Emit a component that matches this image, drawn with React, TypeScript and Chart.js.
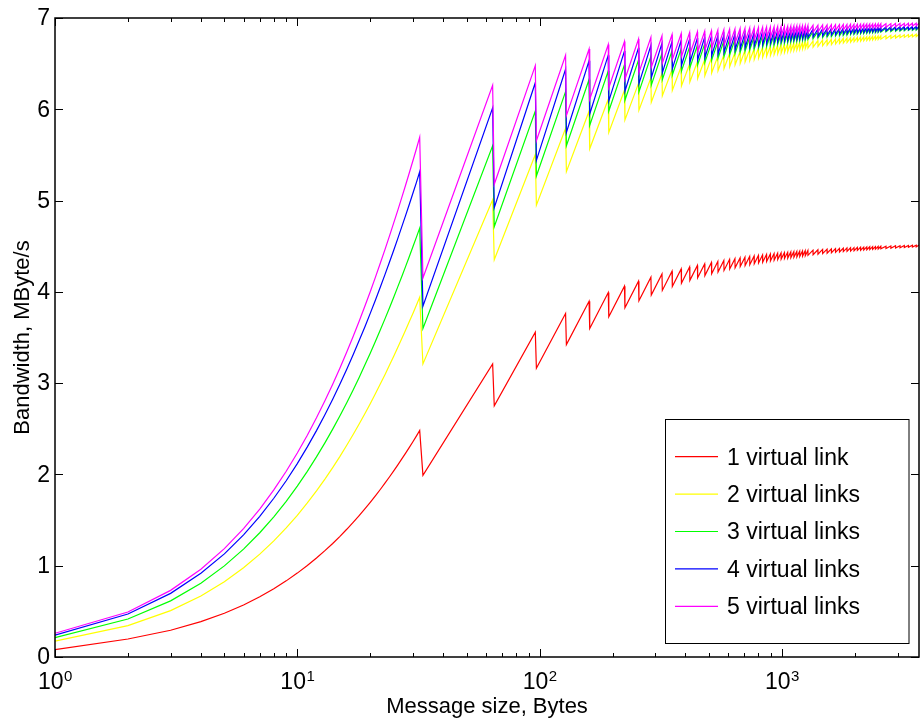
import React, { useEffect, useRef } from "react";
import { Chart, registerables } from "chart.js";

Chart.register(...registerables);

// Message sizes (bytes) for the first, smooth part of the curves
const smallSizes = [1, 2, 3, 4, 5, 6, 7, 8, 9, 10, 11, 12, 13, 14, 15, 16, 17, 18, 19, 20, 21, 22, 23, 24, 25, 26, 27, 28, 29, 30, 31];

// Saw-tooth packet counts k: peak at 32*k bytes, drop at 32*k+1 bytes
const toothK = [1, 2, 3, 4, 5, 6, 7, 8, 9, 10, 11, 12, 13, 14, 15, 16, 17, 18, 19, 20, 21, 22, 23, 24, 25, 26, 27, 28, 29, 30, 31, 32, 33, 34, 35, 36, 37, 38, 39, 40, 42, 44, 46, 48, 50, 52, 54, 56, 58, 60, 62, 64, 66, 68, 70, 72, 74, 76, 78, 80, 84, 88, 92, 96, 100, 104, 108, 112, 115];

const seriesLabels = ["1 virtual link", "2 virtual links", "3 virtual links", "4 virtual links", "5 virtual links"];
const seriesColors = ["#ff0000", "#ffff00", "#00ff00", "#0000ff", "#ff00ff"];

const xMin = 1;
const xMax = 3680;
const yMin = 0;
const yMax = 7;
const yTickValues = [0, 1, 2, 3, 4, 5, 6, 7];
const xDecades = [1, 10, 100, 1000];
const xDecadeExponents = ["0", "1", "2", "3"];
const xTitle = "Message size, Bytes";
const yTitle = "Bandwidth, MByte/s";

// ---- 1 virtual link (red)
const red_small = [0.08, 0.197, 0.293, 0.387, 0.479, 0.570, 0.660, 0.747, 0.834, 0.919, 1.002, 1.084, 1.165, 1.244, 1.322, 1.399, 1.475, 1.549, 1.622, 1.694, 1.765, 1.835, 1.904, 1.972, 2.039, 2.105, 2.170, 2.233, 2.296, 2.358, 2.420];
const red_peaks = [2.481, 3.210, 3.558, 3.762, 3.897, 3.992, 4.062, 4.117, 4.161, 4.196,
  4.226, 4.251, 4.272, 4.290, 4.306, 4.321, 4.333, 4.344, 4.355, 4.364,
  4.372, 4.380, 4.387, 4.393, 4.399, 4.405, 4.410, 4.414, 4.419, 4.423,
  4.427, 4.430, 4.433, 4.437, 4.440, 4.443, 4.446, 4.448, 4.451, 4.453,
  4.457, 4.461, 4.465, 4.468, 4.471, 4.474, 4.476, 4.479, 4.481, 4.483, 4.485, 4.487, 4.489, 4.490, 4.492, 4.494, 4.495, 4.496, 4.498, 4.499,
  4.501, 4.503, 4.505, 4.506, 4.508, 4.509, 4.511, 4.512,
  4.513];
const red_troughs = [1.990, 2.752, 3.164, 3.422, 3.599, 3.727, 3.825, 3.902, 3.964, 4.016,
  4.059, 4.095, 4.126, 4.154, 4.178, 4.199, 4.218, 4.235, 4.250, 4.264,
  4.277, 4.288, 4.298, 4.308, 4.317, 4.325, 4.333, 4.340, 4.347, 4.354,
  4.359, 4.365, 4.370, 4.375, 4.380, 4.384, 4.388, 4.392, 4.396, 4.400,
  4.407, 4.413, 4.419, 4.423, 4.428, 4.433, 4.437, 4.441, 4.444, 4.447, 4.450, 4.454, 4.456, 4.459, 4.461, 4.463, 4.466, 4.468, 4.470, 4.472,
  4.475, 4.478, 4.481, 4.484, 4.486, 4.488, 4.490, 4.492];

// ---- 2 virtual links (yellow)
const yellow_small = [0.174, 0.343, 0.508, 0.668, 0.825, 0.978, 1.127, 1.272, 1.414, 1.552, 1.688, 1.820, 1.949, 2.075, 2.198, 2.319, 2.437, 2.552, 2.665, 2.775, 2.884, 2.990, 3.093, 3.195, 3.295, 3.392, 3.488, 3.582, 3.674, 3.764, 3.853];
const yellow_peaks = [3.941, 5.008, 5.505, 5.792, 5.979, 6.110, 6.209, 6.284, 6.344, 6.392,
  6.433, 6.467, 6.496, 6.521, 6.543, 6.563, 6.580, 6.595, 6.609, 6.621,
  6.632, 6.643, 6.653, 6.661, 6.669, 6.676, 6.683, 6.690, 6.695, 6.701,
  6.706, 6.711, 6.716, 6.720, 6.724, 6.728, 6.732, 6.735, 6.739, 6.742,
  6.748, 6.753, 6.758, 6.762, 6.766, 6.770, 6.774, 6.777, 6.780, 6.783, 6.786, 6.788, 6.791, 6.793, 6.795, 6.797, 6.799, 6.801, 6.802, 6.804,
  6.807, 6.810, 6.812, 6.814, 6.816, 6.818, 6.820, 6.822,
  6.823];
const yellow_troughs = [3.210, 4.351, 4.949, 5.317, 5.567, 5.747, 5.884, 5.991, 6.077, 6.147,
  6.206, 6.256, 6.299, 6.337, 6.369, 6.398, 6.423, 6.447, 6.468, 6.487,
  6.503, 6.520, 6.534, 6.547, 6.559, 6.571, 6.581, 6.591, 6.600, 6.608,
  6.616, 6.624, 6.631, 6.638, 6.644, 6.650, 6.656, 6.661, 6.666, 6.671,
  6.680, 6.689, 6.696, 6.703, 6.709, 6.715, 6.721, 6.726, 6.731, 6.735, 6.739, 6.743, 6.747, 6.751, 6.754, 6.757, 6.760, 6.762, 6.765, 6.768,
  6.772, 6.776, 6.780, 6.784, 6.787, 6.790, 6.793, 6.796];

// ---- 3 virtual links (green)
const green_small = [0.211, 0.416, 0.615, 0.809, 0.998, 1.182, 1.361, 1.536, 1.706, 1.872, 2.034, 2.192, 2.346, 2.496, 2.643, 2.786, 2.926, 3.063, 3.198, 3.328, 3.456, 3.582, 3.704, 3.824, 3.941, 4.057, 4.169, 4.279, 4.388, 4.494, 4.597];
const green_peaks = [4.699, 5.599, 5.981, 6.193, 6.327, 6.419, 6.487, 6.539, 6.580, 6.613,
  6.640, 6.663, 6.683, 6.700, 6.714, 6.727, 6.738, 6.749, 6.758, 6.766,
  6.774, 6.780, 6.787, 6.792, 6.798, 6.802, 6.807, 6.811, 6.815, 6.819,
  6.822, 6.825, 6.828, 6.831, 6.834, 6.836, 6.839, 6.841, 6.843, 6.845,
  6.849, 6.853, 6.856, 6.859, 6.861, 6.864, 6.866, 6.868, 6.870, 6.872, 6.874, 6.876, 6.877, 6.878, 6.880, 6.881, 6.882, 6.884, 6.885, 6.886,
  6.888, 6.889, 6.891, 6.892, 6.894, 6.895, 6.896, 6.897,
  6.898];
const green_troughs = [3.599, 4.714, 5.269, 5.601, 5.823, 5.981, 6.099, 6.191, 6.264, 6.325,
  6.375, 6.418, 6.454, 6.486, 6.514, 6.538, 6.559, 6.579, 6.596, 6.612,
  6.626, 6.639, 6.651, 6.662, 6.672, 6.682, 6.690, 6.699, 6.706, 6.713,
  6.720, 6.726, 6.732, 6.738, 6.743, 6.748, 6.752, 6.757, 6.761, 6.765,
  6.773, 6.780, 6.786, 6.792, 6.797, 6.802, 6.806, 6.810, 6.814, 6.818, 6.821, 6.825, 6.828, 6.831, 6.833, 6.836, 6.838, 6.840, 6.843, 6.845,
  6.849, 6.852, 6.855, 6.858, 6.861, 6.864, 6.866, 6.868];

// ---- 4 virtual links (blue)
const blue_small = [0.239, 0.471, 0.697, 0.917, 1.130, 1.338, 1.541, 1.739, 1.931, 2.119, 2.302, 2.480, 2.654, 2.824, 2.990, 3.152, 3.311, 3.466, 3.616, 3.764, 3.909, 4.050, 4.189, 4.324, 4.456, 4.586, 4.714, 4.838, 4.960, 5.080, 5.197];
const blue_peaks = [5.316, 6.015, 6.291, 6.439, 6.531, 6.593, 6.639, 6.674, 6.701, 6.723,
  6.741, 6.756, 6.769, 6.780, 6.789, 6.798, 6.805, 6.812, 6.818, 6.823,
  6.828, 6.832, 6.836, 6.840, 6.843, 6.847, 6.850, 6.852, 6.855, 6.857,
  6.859, 6.861, 6.863, 6.865, 6.867, 6.869, 6.870, 6.872, 6.873, 6.874,
  6.877, 6.879, 6.881, 6.883, 6.885, 6.886, 6.888, 6.889, 6.890, 6.892, 6.893, 6.894, 6.895, 6.896, 6.897, 6.897, 6.898, 6.899, 6.900, 6.900,
  6.901, 6.903, 6.904, 6.905, 6.906, 6.906, 6.907, 6.908,
  6.908];
const blue_troughs = [3.842, 4.921, 5.440, 5.746, 5.948, 6.090, 6.197, 6.279, 6.345, 6.398,
  6.443, 6.480, 6.513, 6.540, 6.565, 6.586, 6.605, 6.622, 6.638, 6.651,
  6.664, 6.675, 6.686, 6.696, 6.705, 6.713, 6.721, 6.728, 6.734, 6.741,
  6.746, 6.752, 6.757, 6.762, 6.767, 6.771, 6.775, 6.779, 6.783, 6.786,
  6.793, 6.799, 6.804, 6.809, 6.814, 6.818, 6.822, 6.825, 6.829, 6.832, 6.835, 6.838, 6.840, 6.843, 6.845, 6.848, 6.850, 6.852, 6.854, 6.855,
  6.859, 6.862, 6.865, 6.867, 6.870, 6.872, 6.874, 6.876];

// ---- 5 virtual links (magenta)
const magenta_small = [0.26, 0.493, 0.730, 0.961, 1.187, 1.406, 1.621, 1.830, 2.035, 2.235, 2.430, 2.621, 2.807, 2.989, 3.167, 3.342, 3.512, 3.679, 3.842, 4.002, 4.159, 4.313, 4.463, 4.610, 4.755, 4.896, 5.035, 5.171, 5.305, 5.436, 5.565];
const magenta_peaks = [5.694, 6.262, 6.478, 6.591, 6.661, 6.709, 6.743, 6.769, 6.789, 6.806,
  6.819, 6.830, 6.840, 6.848, 6.855, 6.861, 6.867, 6.872, 6.876, 6.880,
  6.884, 6.887, 6.890, 6.893, 6.895, 6.898, 6.900, 6.902, 6.904, 6.906,
  6.907, 6.909, 6.910, 6.911, 6.913, 6.914, 6.915, 6.916, 6.917, 6.918,
  6.920, 6.922, 6.923, 6.925, 6.926, 6.927, 6.928, 6.929, 6.930, 6.931, 6.932, 6.933, 6.933, 6.934, 6.935, 6.935, 6.936, 6.936, 6.937, 6.937,
  6.938, 6.939, 6.940, 6.941, 6.941, 6.942, 6.942, 6.943,
  6.943];
const magenta_troughs = [4.151, 5.179, 5.656, 5.931, 6.110, 6.236, 6.329, 6.401, 6.458, 6.505,
  6.543, 6.576, 6.603, 6.627, 6.648, 6.667, 6.683, 6.698, 6.711, 6.723,
  6.733, 6.743, 6.752, 6.760, 6.768, 6.775, 6.782, 6.788, 6.793, 6.799,
  6.804, 6.808, 6.813, 6.817, 6.821, 6.825, 6.828, 6.831, 6.834, 6.837,
  6.843, 6.848, 6.853, 6.857, 6.861, 6.865, 6.868, 6.871, 6.874, 6.877, 6.879, 6.882, 6.884, 6.886, 6.888, 6.890, 6.892, 6.893, 6.895, 6.896,
  6.899, 6.902, 6.904, 6.906, 6.908, 6.910, 6.912, 6.914];

const seriesSmall = [red_small, yellow_small, green_small, blue_small, magenta_small];
const seriesPeaks = [red_peaks, yellow_peaks, green_peaks, blue_peaks, magenta_peaks];
const seriesTroughs = [red_troughs, yellow_troughs, green_troughs, blue_troughs, magenta_troughs];

function buildPoints(small: number[], peaks: number[], troughs: number[]) {
  const pts: { x: number; y: number }[] = small.map((v, i) => ({ x: smallSizes[i], y: v }));
  toothK.forEach((k, i) => {
    pts.push({ x: 32 * k, y: peaks[i] });
    if (i < troughs.length) pts.push({ x: 32 * k + 1, y: troughs[i] });
  });
  return pts;
}

const FONT = '"Liberation Sans", Arial, Helvetica, sans-serif';

const matlabPlugin = {
  id: "matlabAxes",
  afterDraw(chart: any) {
    const ctx: CanvasRenderingContext2D = chart.ctx;
    const { left, right, top, bottom } = chart.chartArea;
    const xs = chart.scales.x;
    const ys = chart.scales.y;
    ctx.save();
    ctx.strokeStyle = "#000";
    ctx.fillStyle = "#000";

    // inward tick marks
    ctx.lineWidth = 1;
    ctx.beginPath();
    xDecades.forEach((d) => {
      for (let m = 1; m <= 9; m++) {
        const v = d * m;
        if (v < xMin || v > xMax) continue;
        const px = Math.round(xs.getPixelForValue(v)) + 0.5;
        const len = m === 1 ? 8 : 4;
        ctx.moveTo(px, bottom);
        ctx.lineTo(px, bottom - len);
        ctx.moveTo(px, top);
        ctx.lineTo(px, top + len);
      }
    });
    yTickValues.forEach((v) => {
      const py = Math.round(ys.getPixelForValue(v)) + 0.5;
      ctx.moveTo(left, py);
      ctx.lineTo(left + 8, py);
      ctx.moveTo(right, py);
      ctx.lineTo(right - 8, py);
    });
    ctx.stroke();

    // axes box
    ctx.lineWidth = 1.5;
    ctx.strokeRect(left, top, right - left, bottom - top);

    // y tick labels
    ctx.font = `23px ${FONT}`;
    ctx.textAlign = "right";
    ctx.textBaseline = "middle";
    yTickValues.forEach((v) => {
      ctx.fillText(String(v), left - 5, ys.getPixelForValue(v) + 1);
    });

    // x tick labels 10^n
    ctx.textBaseline = "alphabetic";
    ctx.textAlign = "left";
    xDecades.forEach((d, i) => {
      const px = xs.getPixelForValue(d);
      ctx.font = `23px ${FONT}`;
      const wBase = ctx.measureText("10").width;
      ctx.font = `15px ${FONT}`;
      const wExp = ctx.measureText(xDecadeExponents[i]).width;
      const x0 = px - (wBase + wExp) / 2;
      ctx.font = `23px ${FONT}`;
      ctx.fillText("10", x0, 689);
      ctx.font = `15px ${FONT}`;
      ctx.fillText(xDecadeExponents[i], x0 + wBase + 0.5, 681);
    });

    // axis titles
    ctx.font = `22px ${FONT}`;
    ctx.textAlign = "center";
    ctx.fillText(xTitle, (left + right) / 2, 713);
    ctx.save();
    ctx.translate(29, (top + bottom) / 2);
    ctx.rotate(-Math.PI / 2);
    ctx.fillText(yTitle, 0, 0);
    ctx.restore();

    // legend
    const bx = 665.5, by = 419.5, bw = 243.5, bh = 224;
    ctx.fillStyle = "#fff";
    ctx.fillRect(bx, by, bw, bh);
    ctx.strokeStyle = "#000";
    ctx.lineWidth = 1;
    ctx.strokeRect(bx, by, bw, bh);
    ctx.font = `23px ${FONT}`;
    ctx.textAlign = "left";
    ctx.textBaseline = "middle";
    seriesLabels.forEach((lab, i) => {
      const ry = 456.7 + i * 37.4;
      ctx.strokeStyle = seriesColors[i];
      ctx.lineWidth = 1.2;
      ctx.beginPath();
      ctx.moveTo(675, ry);
      ctx.lineTo(718, ry);
      ctx.stroke();
      ctx.fillStyle = "#000";
      ctx.fillText(lab, 727, ry + 1.5);
    });
    ctx.restore();
  },
};

export default function App() {
  const canvasRef = useRef<HTMLCanvasElement | null>(null);

  useEffect(() => {
    if (!canvasRef.current) return;
    const datasets = seriesLabels.map((label, i) => ({
      label,
      data: buildPoints(seriesSmall[i], seriesPeaks[i], seriesTroughs[i]),
      borderColor: seriesColors[i],
      backgroundColor: seriesColors[i],
      borderWidth: 1.2,
      pointRadius: 0,
      tension: 0,
      fill: false,
      order: seriesLabels.length - i,
    }));
    const chart = new Chart(canvasRef.current, {
      type: "line",
      data: { datasets },
      options: {
        animation: false,
        responsive: false,
        devicePixelRatio: 1,
        layout: { padding: { left: 55, top: 18, right: 1, bottom: 63 } },
        scales: {
          x: { type: "logarithmic", min: xMin, max: xMax, display: false },
          y: { type: "linear", min: yMin, max: yMax, display: false },
        },
        plugins: { legend: { display: false }, tooltip: { enabled: false } },
        elements: { point: { radius: 0 }, line: { tension: 0 } },
      },
      plugins: [matlabPlugin],
    } as any);
    return () => chart.destroy();
  }, []);

  return (
    <div style={{ position: "fixed", left: 0, top: 0, width: 920, height: 720, background: "#fff" }}>
      <canvas ref={canvasRef} width={920} height={720} style={{ display: "block" }} />
    </div>
  );
}
